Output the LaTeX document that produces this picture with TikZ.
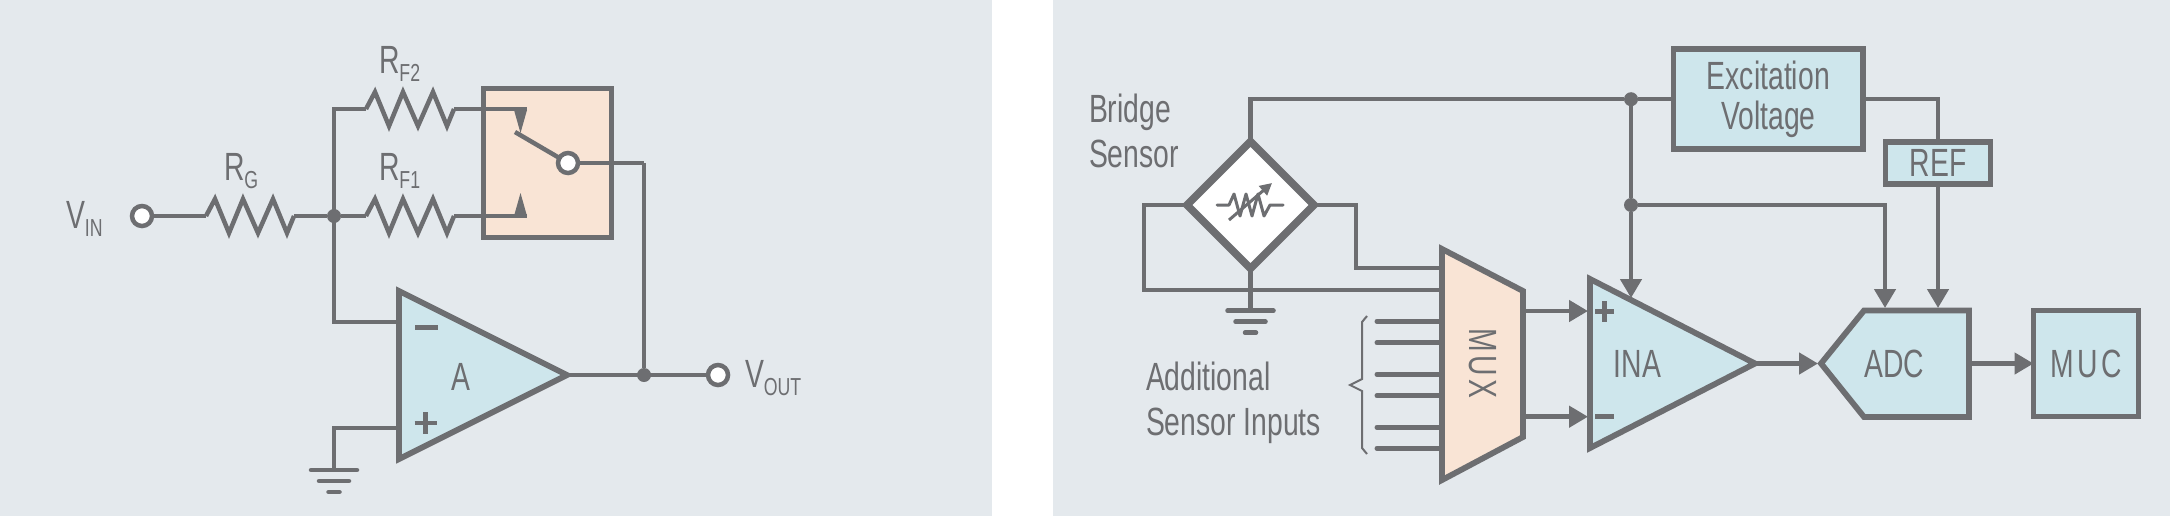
\documentclass[tikz,border=0pt]{standalone}
\usepackage{fontspec}
\setmainfont[FakeStretch=0.72]{Liberation Sans}
\usetikzlibrary{arrows.meta,shapes.geometric}

\definecolor{panelgray}{HTML}{E4E9ED}
\definecolor{inkgray}{HTML}{6D6E71}
\definecolor{partblue}{HTML}{CEE6EC}
\definecolor{partorange}{HTML}{F9E4D5}

\newcommand{\lowlab}[1]{\raisebox{-2.3pt}{\fontsize{7}{7}\selectfont #1}}

\tikzset{
    wire/.style={draw=inkgray, line width=0.45mm, line join=miter},
    part/.style={draw=inkgray, fill=partblue, line width=0.58mm, line join=miter},
    swpart/.style={draw=inkgray, fill=partorange, line width=0.58mm, line join=miter},
    tipwire/.style={wire, -{Triangle[length=1.9mm,width=2.1mm]}},
    bar/.style={draw=inkgray, line width=0.45mm, line cap=round},
    lbl/.style={text=inkgray, inner sep=0pt, outer sep=0pt, font=\fontsize{11.2}{12.8}\selectfont},
    boxpart/.style={part, rectangle, inner sep=0pt, outer sep=0pt, text=inkgray, align=center,
        font=\fontsize{11.2}{11.4}\selectfont},
    term/.style={circle, draw=inkgray, fill=white, line width=0.45mm, minimum size=2mm, inner sep=0pt, outer sep=0pt},
    junc/.style={circle, fill=inkgray, minimum size=1.4mm, inner sep=0pt, outer sep=0pt},
    resistor/.pic={
        \draw[wire] (0,0) -- (9,-17) -- (23,17) -- (37,-17) -- (52,17) -- (67,-17) -- (81,17) -- (88,0);
        \coordinate (-in) at (0,0);
        \coordinate (-out) at (88,0);
    },
    ground/.pic={
        \coordinate (-top) at (0,0);
        \draw[bar] (-23,0) -- (23,0);
        \draw[bar] (-15,11) -- (15,11);
        \draw[bar] (-5.5,22) -- (5.5,22);
    }
}

\begin{document}
\begin{tikzpicture}[x=0.1mm, y=-0.1mm]
\useasboundingbox (0,0) rectangle (2170,516);

% Sfondi
\fill[panelgray] (0,0) rectangle (992,516);
\fill[panelgray] (1053,0) rectangle (2170,516);

% Circuito di sinistra
\node[swpart, rectangle, minimum width=12.8cm/10, minimum height=14.9cm/10, inner sep=0pt, outer sep=0pt] (swbox) at (547.5,163) {};
\draw[part] (399,291) -- (567,375) -- (399,459) -- cycle;
\node[lbl] (alab) at (461,377) {A};
\draw[draw=inkgray, line width=0.5mm] (415,327) -- (438,327); % meno
\draw[draw=inkgray, line width=0.45mm] (414.5,423) -- (436.5,423) (425.5,412) -- (425.5,434); % piu

\node[term] (vin) at (142,216) {};
\node[term] (vout) at (718,375) {};
\node[junc] (jin) at (334,216) {};
\node[junc] (jout) at (644,375) {};
\coordinate (fbtop) at (334,109);
\coordinate (opminus) at (399,322);
\coordinate (opplus) at (399,428);
\coordinate (optip) at (569,375);
\coordinate (sw2) at (527,110);
\coordinate (sw1) at (527,216);
\coordinate (swarm) at (515,132);
\coordinate (fbright) at (644,163);

\pic (rg) at (206,216) {resistor};
\pic (rf1) at (366,216) {resistor};
\pic (rf2) at (366,109) {resistor};
\pic (gndl) at (334,470) {ground};

\draw[wire] (vin) -- (rg-in);
\draw[wire] (rg-out) -- (jin) -- (rf1-in);
\draw[wire] (rf2-in) -- (fbtop) -- (opminus -| fbtop) -- (opminus);
\draw[wire] (rf1-out) -- (sw1);
\draw[wire] (rf2-out) -- (sw2 |- rf2-out);
\draw[wire] (opplus) -- (opplus -| gndl-top) -- (gndl-top);
\draw[wire] (optip) -- (vout);
\draw[wire] (fbright) -- (jout);
\fill[inkgray] (514,110) -- (527,110) -- (520.5,133) -- cycle;
\fill[inkgray] (514,216) -- (527,216) -- (520.5,193) -- cycle;
\node[term] (swpole) at (568,163) {};
\draw[wire] (swarm) -- (swpole);
\draw[wire] (swpole) -- (fbright);

\node[lbl, anchor=base west] (vinlab) at (66,228) {V\lowlab{IN}};
\node[lbl, anchor=base west] (rglab) at (224,180) {R\lowlab{G}};
\node[lbl, anchor=base west] (rf1lab) at (379,180) {R\lowlab{F1}};
\node[lbl, anchor=base west] (rf2lab) at (379,73) {R\lowlab{F2}};
\node[lbl, anchor=base west] (voutlab) at (745,387) {V\lowlab{OUT}};

% Circuito di destra
\node[boxpart, minimum width=18.95cm/10, minimum height=10cm/10] (exc) at (1768.3,99.2) {Excitation\\Voltage};
\node[boxpart, minimum width=10.5cm/10, minimum height=4.25cm/10] (ref) at (1938,163) {REF};
\node[boxpart, minimum width=10.5cm/10, minimum height=10.6cm/10] (muc) at (2086,363.5) {M\kern1pt U\kern1pt C};
\draw[part] (1821,363.5) -- (1864,310.5) -- (1969,310.5) -- (1969,417) -- (1864,417) -- cycle;
\node[lbl] (adclab) at (1894.5,364) {ADC};
\draw[part] (1590,279) -- (1755,363.5) -- (1590,448) -- cycle;
\node[lbl] (inalab) at (1637.5,364) {INA};
\draw[swpart] (1442,249) -- (1523,291) -- (1523,437) -- (1442,480) -- cycle;
\node[lbl, rotate=-90] (muxlab) at (1482.5,363) {M\kern1pt U\kern1pt X};
\draw[draw=inkgray, line width=0.45mm] (1595,311.5) -- (1614,311.5) (1604.5,301) -- (1604.5,322); % piu
\draw[draw=inkgray, line width=0.45mm] (1595,416.7) -- (1614,416.7); % meno

\node[diamond, draw=inkgray, fill=white, line width=0.75mm, aspect=1, minimum width=12.7cm/10, minimum height=12.7cm/10, inner sep=0pt, outer sep=0pt] (bridge) at (1250.5,205) {};
\draw[draw=inkgray, line width=0.3mm, line cap=round, line join=round] (1217,205) -- (1229,205) -- (1234,194) -- (1240,216) -- (1246,194) -- (1252,216) -- (1258,194) -- (1264,216) -- (1270,205) -- (1283,205); % simbolo
\draw[draw=inkgray, line width=0.3mm, -{Triangle[length=1.2mm,width=1.2mm]}] (1229,220) -- (1272,183);

\node[junc] (j1) at (1631,99.2) {};
\node[junc] (j2) at (1631,205) {};
\coordinate (inatop) at (1631,298);
\coordinate (adc1) at (1885,308);
\coordinate (adc2) at (1938,308);
\coordinate (inaout) at (1756,363.5);
\coordinate (adcin) at (1818,363.5);
\coordinate (adcout) at (1969,363.5);
\coordinate (mplus) at (1525,311);
\coordinate (mminus) at (1525,416.7);
\coordinate (iplus) at (1588,311);
\coordinate (iminus) at (1588,416.7);
\coordinate (mtop) at (1440,268);
\coordinate (mlow) at (1440,290);
\pic (gndr) at (1250.5,310.7) {ground};

\draw[wire] (bridge.north) -- (bridge.north |- j1) -- (j1) -- (exc.west);
\draw[wire] (exc.east) -- (exc.east -| ref) -- (ref.north);
\draw[tipwire] (ref.south) -- (adc2);
\draw[wire] (j1) -- (j2);
\draw[tipwire] (j2) -- (inatop);
\draw[tipwire] (j2) -- (j2 -| adc1) -- (adc1);
\draw[wire] (bridge.west) -- (1144,205) -- (1144,290) -- (mlow);
\draw[wire] (bridge.east) -- (1356,205) -- (1356,268) -- (mtop);
\draw[wire] (bridge.south) -- (gndr-top);
\draw[tipwire] (mplus) -- (iplus);
\draw[tipwire] (mminus) -- (iminus);
\draw[tipwire] (inaout) -- (adcin);
\draw[tipwire] (adcout) -- (muc.west);

% Ingressi aggiuntivi
\foreach \y in {321.3,342.7,374.3,395.7,427.3,448.3} {
    \draw[draw=inkgray, line width=0.5mm, line cap=round] (1377,\y) -- (1440,\y);
}
\draw[draw=inkgray, line width=0.2mm] (1367,316) -- (1362,322) -- (1362,379) -- (1350,385) -- (1362,391) -- (1362,448) -- (1367,454); % graffa

\node[lbl, anchor=base west, align=left] (bridgelab) at (1089,167) {Bridge\\Sensor};
\node[lbl, anchor=base west, align=left] (addlab) at (1146,435) {Additional\\Sensor Inputs};

\end{tikzpicture}
\end{document}
